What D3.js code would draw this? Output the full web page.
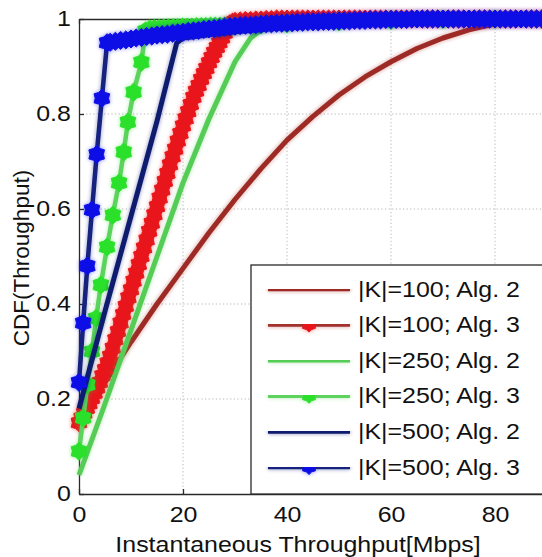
<!DOCTYPE html>
<meta charset="utf-8">
<style>

body {
  margin: 0;
  background: #fff;
}

svg {
  display: block;
  font-family: "Liberation Sans", Arial, sans-serif;
}

.grid line {
  stroke: #b5b5b5;
  stroke-width: 1;
  stroke-dasharray: 1.2,2.4;
}

.axis path,
.axis line {
  stroke: #2a2a2a;
  stroke-width: 1.3;
}

.axis text {
  font-size: 21.5px;
  fill: #111;
}

</style>
<svg width="542" height="557"></svg>
<script src="https://d3js.org/d3.v7.min.js"></script>
<script>

var xTicks = [0, 20, 40, 60, 80],
    yTicks = [0, 0.2, 0.4, 0.6, 0.8, 1];

var names = ["|K|=100; Alg. 2", "|K|=100; Alg. 3", "|K|=250; Alg. 2",
             "|K|=250; Alg. 3", "|K|=500; Alg. 2", "|K|=500; Alg. 3"];

// [throughput, cdf]
var k100alg2 = [[0,.15],[5,.235],[10,.32],[15,.4],[20,.475],[25,.55],[30,.62],[35,.685],[40,.745],
  [45,.795],[50,.84],[55,.878],[60,.91],[65,.938],[70,.96],[75,.977],[80,.99],[85,.997],[90,1]];

var k100alg3 = [[0,.15],[.5,.16],[1,.17],[1.5,.18],[2,.19],[2.5,.201],[3,.212],[3.5,.223],[4,.235],
  [4.5,.249],[5,.262],[5.5,.276],[6,.29],[6.5,.307],[7,.325],[7.5,.342],[8,.36],[8.5,.378],[9,.395],
  [9.5,.413],[10,.43],[10.5,.448],[11,.465],[11.5,.483],[12,.5],[12.5,.518],[13,.535],[13.5,.553],
  [14,.57],[14.5,.588],[15,.605],[15.5,.623],[16,.64],[16.5,.658],[17,.675],[17.5,.693],[18,.71],
  [18.5,.726],[19,.743],[19.5,.759],[20,.775],[20.5,.79],[21,.805],[21.5,.82],[22,.835],[22.5,.848],
  [23,.86],[23.5,.873],[24,.885],[24.5,.896],[25,.908],[25.5,.919],[26,.93],[26.5,.94],[27,.95],
  [27.5,.96],[28,.97],[28.5,.98],[29,.99],[29.5,.993],[30,.995],[31,.996],[32,.997],[33,.997],
  [34,.998],[35,.998],[36,.999],[37,.999],[38,1],[39,1],[40,1],[41,1],[42,1],[43,1],[44,1],[45,1],
  [46,1],[47,1],[48,1],[49,1],[50,1],[51,1],[52,1],[53,1],[54,1],[55,1],[56,1],[57,1],[58,1],[59,1],
  [60,1],[61,1],[62,1],[63,1],[64,1],[65,1],[66,1],[67,1],[68,1],[69,1],[70,1],[71,1],[72,1],[73,1],
  [74,1],[75,1],[76,1],[77,1],[78,1],[79,1],[80,1],[81,1],[82,1],[83,1],[84,1],[85,1],[86,1],[87,1],
  [88,1],[89,1],[90,1]];

var k250alg2 = [[0,.04],[5,.19],[10,.345],[15,.5],[20,.655],[25,.79],[30,.91],[33,.96],[36,.985],
  [40,.997],[45,1],[90,1]];

var k250alg3 = [[0,.09],[.8,.16],[1.6,.23],[2.5,.3],[3.3,.37],[4.2,.44],[5.4,.52],[6.5,.587],
  [7.7,.655],[8.6,.72],[9.4,.783],[10.5,.846],[12,.909],[12.8,.975],[13.6,.979],[14.5,.98],
  [15.4,.98],[16.3,.981],[17.2,.981],[18.1,.982],[19,.982],[19.9,.983],[20.8,.983],[21.7,.983],
  [22.6,.984],[23.5,.984],[24.4,.984],[25.3,.985],[26.2,.985],[27.1,.985],[28,.985],[30,.985],
  [35,.988],[40,.99],[50,.994],[60,.997],[70,.999],[80,1],[90,1]];

var k500alg2 = [[0,.18],[5,.385],[10,.585],[15,.785],[18.8,.95],[20,.96],[25,.967],[30,.973],
  [40,.982],[50,.989],[60,.994],[75,.998],[90,1]];

var k500alg3 = [[0,.235],[.8,.36],[1.6,.48],[2.5,.598],[3.4,.715],[4.4,.833],[5.4,.95],
  [6,.951],[7,.953],[8,.955],[9,.956],[10,.958],[11,.96],[12,.961],[13,.963],[14,.964],[15,.966],
  [16,.967],[17,.968],[18,.97],[19,.971],[20,.972],[21,.974],[22,.975],[23,.976],[24,.978],[25,.979],
  [26,.98],[27,.981],[28,.983],[29,.984],[30,.985],[31,.986],[32,.987],[33,.987],[34,.988],[35,.989],
  [36,.99],[37,.99],[38,.991],[39,.991],[40,.992],[41,.992],[42,.993],[43,.993],[44,.994],[45,.994],
  [46,.994],[47,.995],[48,.995],[49,.995],[50,.996],[51,.996],[52,.996],[53,.997],[54,.997],
  [55,.997],[56,.998],[57,.998],[58,.998],[59,.999],[60,.999],[61,.999],[62,.999],[63,.999],[64,1],
  [65,1],[66,1],[67,1],[68,1],[69,1],[70,1],[71,1],[72,1],[73,1],[74,1],[75,1],[76,1],[77,1],[78,1],
  [79,1],[80,1],[81,1],[82,1],[83,1],[84,1],[85,1],[86,1],[87,1],[88,1],[89,1],[90,1]];

var series = [
  {name: names[0], data: k100alg2, line: "#9e2b25", marker: null},
  {name: names[1], data: k100alg3, line: "#a3302a", marker: "#e8141a"},
  {name: names[2], data: k250alg2, line: "#55cc55", marker: null},
  {name: names[3], data: k250alg3, line: "#5bd35b", marker: "#2be02b"},
  {name: names[4], data: k500alg2, line: "#111a6e", marker: null},
  {name: names[5], data: k500alg3, line: "#14207e", marker: "#0a10e6"}
];

var svg = d3.select("svg"),
    plotLeft = 79, plotTop = 19, plotBottom = 494;

var x = d3.scaleLinear().domain([0, 100]).range([plotLeft, plotLeft + 520]),
    y = d3.scaleLinear().domain([0, 1]).range([plotBottom, plotTop]);

var stretch = "scale(1.16,1)";

var defs = svg.append("defs");
var glow = defs.append("filter").attr("id", "glow")
    .attr("filterUnits", "userSpaceOnUse")
    .attr("x", 0).attr("y", 0).attr("width", 542).attr("height", 557);
glow.append("feGaussianBlur").attr("in", "SourceGraphic").attr("stdDeviation", 2.2).attr("result", "b");
glow.append("feComponentTransfer").attr("in", "b").attr("result", "b2")
  .append("feFuncA").attr("type", "linear").attr("slope", 0.45);
var merge = glow.append("feMerge");
merge.append("feMergeNode").attr("in", "b2");
merge.append("feMergeNode").attr("in", "SourceGraphic");

// six pointed star, like matlab's hexagram marker (a bit rounder)
function star(R) {
  var pts = d3.range(12).map(function(i) {
    var a = i * Math.PI / 6 - Math.PI / 2, r = i % 2 ? R * 0.74 : R;
    return [r * Math.cos(a), r * Math.sin(a)];
  });
  return "M" + pts.join("L") + "Z";
}

// grid
var grid = svg.append("g").attr("class", "grid");
grid.selectAll(".gx")
  .data(xTicks.filter(function(d) { return d > 0; }))
  .enter().append("line")
    .attr("x1", x).attr("x2", x)
    .attr("y1", y(0)).attr("y2", y(1));
grid.selectAll(".gy")
  .data(yTicks.filter(function(d) { return d > 0 && d < 1; }))
  .enter().append("line")
    .attr("x1", x(0)).attr("x2", x(100))
    .attr("y1", y).attr("y2", y);

// axes, ticks point inward as in matlab
var xAxis = svg.append("g")
    .attr("class", "axis")
    .attr("transform", "translate(0," + plotBottom + ")")
    .call(d3.axisBottom(x).tickValues(xTicks).tickSizeInner(-5).tickSizeOuter(0).tickPadding(13));
xAxis.selectAll("text").attr("transform", stretch);

svg.append("g")
    .attr("class", "axis")
    .attr("transform", "translate(0," + plotTop + ")")
    .call(d3.axisTop(x).tickValues(xTicks).tickSizeInner(-5).tickSizeOuter(0).tickFormat(""));

var yAxis = svg.append("g")
    .attr("class", "axis")
    .attr("transform", "translate(" + plotLeft + ",0)")
    .call(d3.axisLeft(y).tickValues(yTicks).tickSizeInner(-5).tickSizeOuter(0).tickPadding(7)
      .tickFormat(function(d) { return d === 0 || d === 1 ? d : d.toFixed(1); }));
yAxis.selectAll("text").attr("transform", stretch);

// curves
var line = d3.line()
    .x(function(d) { return x(d[0]); })
    .y(function(d) { return y(d[1]); });

var curve = svg.append("g").selectAll("g")
  .data(series)
  .enter().append("g")
    .attr("filter", "url(#glow)");

curve.append("path")
    .attr("d", function(d) { return line(d.data); })
    .attr("fill", "none")
    .attr("stroke", function(d) { return d.line; })
    .attr("stroke-width", function(d) { return d.marker ? 4.5 : 5; })
    .attr("stroke-linejoin", "round");

curve.filter(function(d) { return d.marker; })
  .selectAll(".mark")
  .data(function(d) { return d.data.map(function(p) { return {p: p, c: d.marker}; }); })
  .enter().append("path")
    .attr("d", star(9))
    .attr("transform", function(d) { return "translate(" + x(d.p[0]) + "," + y(d.p[1]) + ")"; })
    .attr("fill", function(d) { return d.c; })
    .attr("stroke", function(d) { return d.c; })
    .attr("stroke-width", 1);

// legend
var legend = svg.append("g");
legend.append("rect")
    .attr("x", 251).attr("y", 265)
    .attr("width", 330).attr("height", plotBottom - 265)
    .attr("fill", "#fff")
    .attr("stroke", "#2a2a2a")
    .attr("stroke-width", 1.3);

var item = legend.selectAll(".item")
  .data(series)
  .enter().append("g")
    .attr("transform", function(d, i) { return "translate(0," + (289 + i * 35.6) + ")"; })
    .attr("filter", "url(#glow)");

item.append("line")
    .attr("x1", 268).attr("x2", 350)
    .attr("stroke", function(d) { return d.line; })
    .attr("stroke-width", 4.5);

item.filter(function(d) { return d.marker; })
  .append("path")
    .attr("d", star(7.5))
    .attr("transform", "translate(309,0)")
    .attr("fill", function(d) { return d.marker; })
    .attr("stroke", function(d) { return d.marker; });

legend.selectAll(".lab")
  .data(series)
  .enter().append("text")
    .attr("transform", function(d, i) { return "translate(358," + (289 + i * 35.6) + ") " + stretch; })
    .attr("dy", "0.35em")
    .style("font-size", "21.5px")
    .style("fill", "#111")
    .text(function(d) { return d.name; });

// axis titles
svg.append("text")
    .attr("transform", "translate(298,552) " + stretch)
    .attr("text-anchor", "middle")
    .style("font-size", "21.5px")
    .style("fill", "#111")
    .text("Instantaneous Throughput[Mbps]");

svg.append("text")
    .attr("transform", "translate(29,258) rotate(-90)")
    .attr("text-anchor", "middle")
    .style("font-size", "22.5px")
    .style("fill", "#111")
    .text("CDF(Throughput)");

</script>
